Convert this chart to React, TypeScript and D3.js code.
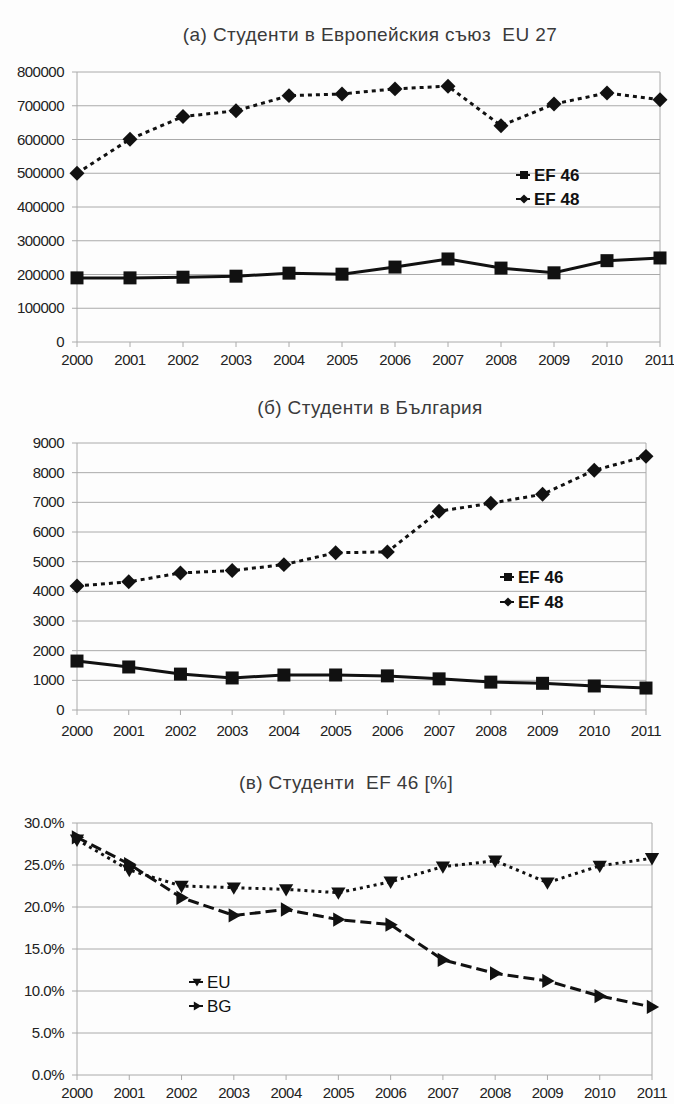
import React from "react";
import * as d3 from "d3";

const years = ["2000","2001","2002","2003","2004","2005","2006","2007","2008","2009","2010","2011"];

const euEF46 = [190000,190000,192000,195000,204000,201000,222000,246000,219000,205000,241000,249000];
const euEF48 = [500000,601000,668000,685000,730000,735000,750000,758000,641000,705000,738000,718000];
const euTicks = [0,100000,200000,300000,400000,500000,600000,700000,800000];

const bgEF46 = [1650,1450,1210,1080,1180,1180,1150,1050,940,900,810,740];
const bgEF48 = [4180,4320,4620,4700,4900,5300,5330,6700,6970,7270,8080,8550];
const bgTicks = [0,1000,2000,3000,4000,5000,6000,7000,8000,9000];

const pctEU = [28.0,24.4,22.5,22.3,22.1,21.7,23.0,24.8,25.5,22.9,24.9,25.8];
const pctBG = [28.3,25.1,21.1,19.0,19.7,18.5,17.9,13.7,12.1,11.2,9.4,8.1];
const pctTicks = [0,5,10,15,20,25,30];

type Marker = "square" | "diamond" | "triDown" | "triRight";

function markerPath(m: Marker, s: number): string {
  const h = s / 2;
  switch (m) {
    case "square": return `M${-h},${-h}H${h}V${h}H${-h}Z`;
    case "diamond": return `M0,${-h * 1.15}L${h * 1.15},0L0,${h * 1.15}L${-h * 1.15},0Z`;
    case "triDown": return `M${-h * 1.1},${-h * 0.8}L${h * 1.1},${-h * 0.8}L0,${h * 1.1}Z`;
    case "triRight": return `M${-h * 0.8},${-h * 1.1}L${h * 1.1},0L${-h * 0.8},${h * 1.1}Z`;
  }
}

interface Series {
  values: number[];
  marker: Marker;
  dash: string;
  label: string;
}

interface PanelProps {
  title: string;
  titleX: number;
  titleY: number;
  x0: number;
  x1: number;
  yTop: number;
  yBottom: number;
  yMax: number;
  ticks: number[];
  fmt: (v: number) => string;
  series: Series[];
  legendX: number;
  legendY: number;
  legendGap: number;
  legendBold: boolean;
  xLabelY: number;
}

const FONT = "'Liberation Sans', Arial, sans-serif";

function Panel(p: PanelProps) {
  const x = d3.scalePoint<string>().domain(years).range([p.x0, p.x1]);
  const y = d3.scaleLinear().domain([0, p.yMax]).range([p.yBottom, p.yTop]);
  const line = d3.line<number>().x((_, i) => x(years[i]) as number).y((d) => y(d));
  const grid = "#aaaaaa";
  return (
    <g>
      <text x={p.titleX} y={p.titleY} textAnchor="middle" fontFamily={FONT} fontSize={19} letterSpacing={0.4} fill="#3a3a3a" style={{ whiteSpace: "pre" }}>{p.title}</text>
      {p.ticks.map((t) => (
        <g key={t}>
          <line x1={p.x0 - 5} x2={p.x1} y1={y(t)} y2={y(t)} stroke={grid} strokeWidth={1} />
          <text x={p.x0 - 13} y={y(t) + 5} textAnchor="end" fontFamily={FONT} fontSize={15} fill="#222" letterSpacing={-0.5}>{p.fmt(t)}</text>
        </g>
      ))}
      <line x1={p.x0} x2={p.x0} y1={p.yTop} y2={p.yBottom} stroke={grid} />
      <line x1={p.x1} x2={p.x1} y1={p.yTop} y2={p.yBottom} stroke={grid} />
      {years.map((yr) => (
        <g key={yr}>
          <line x1={x(yr)} x2={x(yr)} y1={p.yBottom} y2={p.yBottom + 5} stroke={grid} />
          <text x={x(yr)} y={p.xLabelY + 5} textAnchor="middle" fontFamily={FONT} fontSize={15} fill="#222" letterSpacing={-0.5}>{yr}</text>
        </g>
      ))}
      {p.series.map((s, si) => (
        <g key={si}>
          <path d={line(s.values) || ""} fill="none" stroke="#111" strokeWidth={3} strokeDasharray={s.dash} />
          {s.values.map((v, i) => (
            <path key={i} d={markerPath(s.marker, 13)} transform={`translate(${x(years[i])},${y(v)})`} fill="#111" />
          ))}
        </g>
      ))}
      {p.series.map((s, si) => {
        const ly = p.legendY + si * p.legendGap;
        return (
          <g key={"l" + si}>
            <line x1={p.legendX - 8} x2={p.legendX + 6} y1={ly} y2={ly} stroke="#111" strokeWidth={2} />
            <path d={markerPath(s.marker, 8)} transform={`translate(${p.legendX},${ly})`} fill="#111" />
            <text x={p.legendX + 10} y={ly + 6} fontFamily={FONT} fontSize={17} fontWeight={p.legendBold ? "bold" : "normal"} fill="#111">{s.label}</text>
          </g>
        );
      })}
    </g>
  );
}

export default function App() {
  const fmtInt = (v: number) => String(v);
  const fmtPct = (v: number) => v.toFixed(1) + "%";
  return (
    <svg width={674} height={1104} style={{ position: "absolute", left: 0, top: 0, background: "#fff" }}>
      <rect x={0} y={0} width={674} height={1104} fill="#fdfdfd" />
      <Panel
        title="(а) Студенти в Европейския съюз  EU 27"
        titleX={370} titleY={41}
        x0={77} x1={660} yTop={72} yBottom={342} yMax={800000}
        ticks={euTicks} fmt={fmtInt}
        series={[
          { values: euEF46, marker: "square", dash: "", label: "EF 46" },
          { values: euEF48, marker: "diamond", dash: "4,4", label: "EF 48" },
        ]}
        legendX={524} legendY={175} legendGap={24} legendBold={true}
        xLabelY={360}
      />
      <Panel
        title="(б) Студенти в България"
        titleX={370} titleY={414}
        x0={77} x1={646} yTop={443} yBottom={710} yMax={9000}
        ticks={bgTicks} fmt={fmtInt}
        series={[
          { values: bgEF46, marker: "square", dash: "", label: "EF 46" },
          { values: bgEF48, marker: "diamond", dash: "4,4", label: "EF 48" },
        ]}
        legendX={508} legendY={577} legendGap={25} legendBold={true}
        xLabelY={731}
      />
      <Panel
        title="(в) Студенти  EF 46 [%]"
        titleX={346} titleY={789}
        x0={77} x1={652} yTop={823} yBottom={1075} yMax={30}
        ticks={pctTicks} fmt={fmtPct}
        series={[
          { values: pctEU, marker: "triDown", dash: "3,4", label: "EU" },
          { values: pctBG, marker: "triRight", dash: "11,5", label: "BG" },
        ]}
        legendX={197} legendY={982} legendGap={24} legendBold={false}
        xLabelY={1093}
      />
    </svg>
  );
}
